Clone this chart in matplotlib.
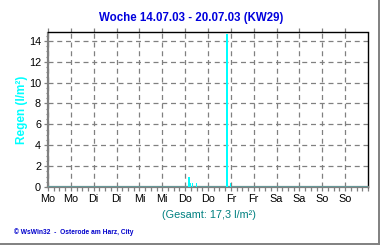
import matplotlib
matplotlib.use("Agg")
import matplotlib.pyplot as plt
from matplotlib.ticker import MultipleLocator
from matplotlib.lines import Line2D

plt.rcParams['font.family'] = ['Liberation Sans', 'DejaVu Sans']

# data: hours since Monday 00:00, rain in l/m²
rain_hours = [74, 75, 76, 78, 94, 96]
rain_values = [1.0, 0.4, 0.4, 0.4, 14.7, 0.4]
day_labels = ["Mo", "Mo", "Di", "Di", "Mi", "Mi", "Do", "Do", "Fr", "Fr", "Sa", "Sa", "So", "So"]
title = "Woche 14.07.03 - 20.07.03 (KW29)"
total_text = "(Gesamt: 17,3 l/m²)"
footer = "© WsWin32  -  Osterode am Harz, City"
ymax = 14.8
hours_total = 168

fig = plt.figure(figsize=(3.8, 2.45), dpi=100)
ax = fig.add_axes([48/380, 1-187/245, 320/380, 154.5/245])

# baseline and spikes
ax.plot([0, hours_total], [0, 0], color='cyan', lw=1.0, zorder=3)
ax.bar(rain_hours, rain_values, width=0.6, color='cyan', linewidth=0,
       antialiased=False, snap=True, zorder=4)

ax.set_xlim(0, hours_total)
ax.set_ylim(0, ymax)

ax.xaxis.set_minor_locator(MultipleLocator(3))
ax.yaxis.set_major_locator(MultipleLocator(2))
ax.yaxis.set_minor_locator(MultipleLocator(0.5))
ax.set_xticks([12*i for i in range(14)])
ax.set_xticklabels(day_labels)

ax.grid(True, which='major', color='#808080', ls=(0, (4, 3)), lw=0.9)
ax.tick_params(axis='x', which='both', direction='out', length=3, width=0.9,
               color='#808080', labelsize=7.8, pad=2)
ax.tick_params(axis='y', which='major', direction='out', length=3, width=0.9,
               color='#808080', labelsize=7.8, pad=2)
ax.tick_params(axis='y', which='minor', direction='out', length=1.5, width=0.8,
               color='#808080')
ax.tick_params(axis='x', which='major', top=True, labeltop=False)

for s in ['left', 'bottom']:
    ax.spines[s].set_color('#808080')
    ax.spines[s].set_linewidth(1.6)
for s in ['top', 'right']:
    ax.spines[s].set_color('black')
    ax.spines[s].set_linewidth(1.0)

fig.text(191/380, 1-18/245, title, ha='center', va='center', color='#0000dd',
         fontsize=8.3, fontweight='bold')
fig.text(22/380, 1-110/245, "Regen (l/m²)", rotation=90, ha='center', va='center',
         color='cyan', fontsize=8.5, fontweight='bold')
fig.text(209/380, 1-215/245, total_text, ha='center', va='center', color='#008080',
         fontsize=7.8)
fig.text(14/380, 1-232/245, footer, ha='left', va='center', color='#0000cc',
         fontsize=4.8, fontweight='bold')

# frame shadow at right and bottom
fig.add_artist(Line2D([378.5/380, 378.5/380], [1-243.5/245, 1], transform=fig.transFigure,
                      color='#808080', lw=1.4))
fig.add_artist(Line2D([0, 378.5/380], [1-243.5/245, 1-243.5/245], transform=fig.transFigure,
                      color='#808080', lw=1.4))

fig.savefig("out.png", dpi=100)
